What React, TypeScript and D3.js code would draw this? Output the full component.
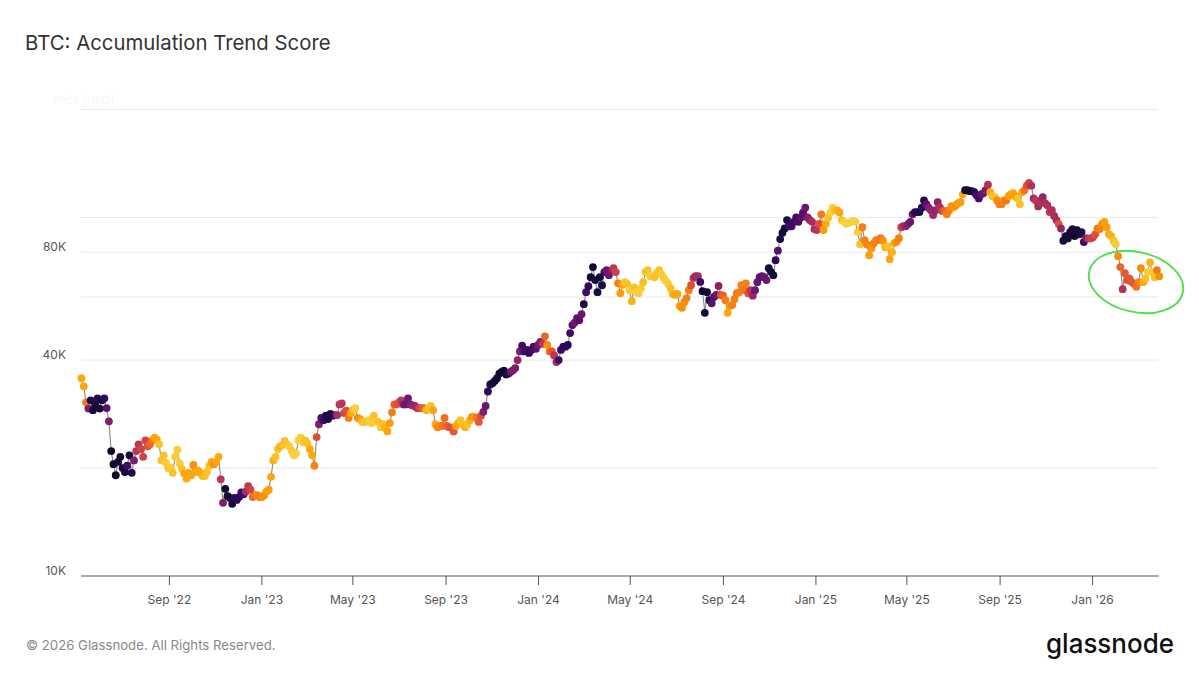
import React from "react";
import * as d3 from "d3";

const startDate = "2022-05-08";
const endDate = "2026-03-29";
const stepDays = 3.0125;

// BTC price in thousands of USD
const priceK = [
  35.6,33.8,30.5,29.3,30.9,29.0,30.1,31.3,29.3,30.9,
  31.3,29.4,27.0,22.3,20.5,19.1,20.8,21.5,20.0,19.5,
  20.3,21.7,19.4,21.0,22.3,23.3,22.6,21.5,23.9,23.0,
  23.3,23.9,24.3,24.0,23.3,21.0,21.7,20.7,20.0,20.1,
  19.4,21.5,22.5,20.6,19.9,19.3,18.7,19.4,19.1,20.4,
  19.5,19.7,19.4,19.0,19.0,19.5,20.3,20.8,20.5,20.8,
  21.5,18.6,16.0,17.5,16.7,16.5,15.9,16.5,16.3,16.6,
  17.1,16.9,17.2,17.8,17.4,16.6,16.8,16.8,16.6,16.6,
  16.8,17.2,17.4,18.9,21.0,21.5,22.6,23.0,23.2,23.8,
  23.3,23.0,22.4,21.7,22.0,23.9,24.3,23.6,23.9,23.4,
  22.6,21.7,20.3,24.4,26.5,27.6,27.2,28.0,27.4,28.3,
  28.0,28.1,28.1,30.1,30.3,28.5,28.9,27.6,28.5,29.1,
  29.4,27.6,27.4,26.9,26.9,27.0,27.2,26.7,28.0,27.0,
  26.9,26.0,26.5,25.9,25.3,26.7,28.6,30.1,30.1,30.5,
  30.9,30.1,30.1,31.3,30.1,29.9,29.8,29.4,29.4,29.4,
  29.4,29.0,29.4,29.8,29.0,26.5,26.0,26.2,26.2,27.6,
  26.2,26.0,25.9,25.3,26.2,26.7,27.2,26.5,26.0,26.4,
  27.2,27.8,27.8,27.6,26.9,28.0,28.7,29.8,32.7,34.2,
  34.5,35.0,35.6,36.7,37.1,37.4,36.5,36.7,37.1,37.5,
  38.0,40.0,42.3,43.9,42.3,42.7,41.9,42.7,43.6,43.0,
  44.1,45.0,44.4,46.6,44.1,42.3,42.3,41.2,39.5,40.0,
  42.7,43.6,43.6,44.1,47.6,50.1,50.9,52.4,51.7,53.7,
  57.3,61.9,64.3,68.1,72.7,66.9,61.9,68.1,64.7,70.4,
  71.3,69.0,70.8,72.2,70.4,65.5,61.5,64.9,66.0,65.3,
  62.7,58.4,63.8,61.9,61.5,63.5,66.0,70.4,71.3,68.6,
  68.6,68.1,69.9,71.3,69.4,67.8,66.5,65.3,63.5,61.2,
  60.8,61.2,56.6,56.0,58.0,59.6,62.7,64.7,67.8,68.6,
  68.6,66.1,62.3,54.2,61.9,58.8,57.6,60.0,60.8,64.4,
  60.8,60.5,58.8,54.2,56.6,57.0,59.2,61.5,61.9,64.7,
  62.7,65.5,61.5,62.7,60.5,62.7,66.0,68.1,68.6,68.1,
  66.9,72.2,70.4,69.0,76.0,80.8,87.0,90.6,93.2,98.3,
  94.5,94.5,97.2,100,97.2,100,103.2,106.5,100,98.3,
  97.2,92.8,92.2,96.0,102,92.2,96.0,99.8,103.2,106.5,
  104.8,104.8,103.2,98.3,97.2,96.0,96.6,97.2,97.8,97.2,
  91.0,84.2,93.9,86.4,84.0,78.5,82.1,84.6,86.4,86.4,
  87.5,86.1,82.6,83.1,76.5,80.0,84.8,85.5,87.5,93.9,
  94.5,94.5,95.8,97.2,102,103.5,103.5,103.5,106.5,111.5,
  108.9,106.5,104.8,101.5,104.8,110.3,106.5,104.3,104.3,102,
  104.8,107.5,106.8,108.2,109.6,110.3,116,119.1,119.1,118.4,
  118.4,117.6,115.3,113,116,116.8,119.1,123.4,117.6,114.6,
  113.9,111.5,108.9,108.9,111.5,111.5,114.6,116,116.8,114.6,
  113,108.9,117.6,119.1,122.6,124.9,122.6,113,111.5,107.3,
  110.3,113.9,109.6,108.2,103.5,104.8,101,98.3,95.8,93.2,
  86.1,88.7,87.4,91.0,92.8,88.7,92.2,89.7,91.0,85.4,
  87.4,87.4,87.4,88.0,89.7,93.2,92.8,96.0,97.2,93.9,
  89.7,88.7,86.1,84.2,78.0,72.7,63.1,69.9,66.9,67.6,
  66.0,65.3,64.1,66.0,72.2,66.0,67.6,70.4,74.9,70.4,
  68.1,71.3,68.6,
];

// Accumulation Trend Score on a 0 to 1 scale
const score = [
  .8,.8,.7,.35,.12,.1,.1,.15,.1,.1,
  .15,.25,.35,.08,.08,.08,.08,.1,.1,.1,
  .2,.1,.12,.35,.5,.5,.55,.55,.55,.6,
  .65,.7,.8,.8,.85,.85,.85,.87,.85,.87,
  .85,.87,.87,.87,.85,.8,.8,.8,.8,.75,
  .8,.8,.8,.82,.85,.85,.85,.8,.75,.8,
  .8,.5,.35,.1,.1,.08,.1,.15,.15,.15,
  .2,.2,.45,.5,.55,.65,.7,.75,.72,.75,
  .75,.78,.78,.8,.82,.85,.85,.82,.85,.85,
  .85,.87,.87,.88,.88,.88,.87,.87,.85,.85,
  .8,.8,.72,.6,.35,.25,.2,.12,.12,.12,
  .12,.2,.45,.5,.5,.55,.6,.72,.8,.85,
  .87,.75,.78,.85,.85,.85,.87,.87,.85,.87,
  .85,.87,.85,.82,.8,.78,.72,.65,.6,.6,
  .5,.35,.3,.3,.35,.4,.4,.45,.55,.6,
  .65,.82,.85,.85,.8,.8,.72,.75,.7,.68,
  .65,.62,.6,.62,.8,.8,.85,.85,.82,.85,
  .82,.75,.78,.7,.62,.6,.35,.3,.15,.12,
  .1,.1,.1,.1,.1,.08,.1,.12,.3,.35,
  .35,.4,.35,.2,.2,.2,.15,.2,.2,.25,
  .3,.35,.5,.65,.75,.7,.6,.5,.45,.2,
  .2,.15,.15,.15,.2,.25,.3,.3,.25,.3,
  .12,.2,.15,.1,.1,.1,.1,.1,.12,.2,
  .3,.3,.35,.5,.55,.72,.78,.8,.85,.85,
  .87,.82,.85,.87,.87,.87,.85,.85,.85,.87,
  .87,.85,.85,.85,.87,.87,.87,.87,.85,.82,
  .8,.8,.78,.75,.75,.72,.72,.6,.5,.4,
  .45,.2,.08,.1,.1,.12,.25,.25,.3,.38,
  .6,.65,.72,.8,.78,.72,.72,.7,.72,.72,
  .7,.72,.6,.5,.4,.3,.3,.28,.25,.28,
  .3,.1,.1,.1,.15,.25,.12,.1,.1,.12,
  .2,.2,.2,.2,.22,.25,.25,.3,.35,.38,
  .45,.45,.5,.6,.7,.78,.8,.85,.87,.88,
  .85,.82,.8,.85,.87,.88,.88,.88,.88,.88,
  .87,.85,.72,.72,.72,.78,.78,.72,.72,.72,
  .7,.75,.82,.85,.8,.82,.8,.75,.72,.55,
  .45,.4,.35,.3,.3,.15,.15,.12,.15,.1,
  .25,.35,.4,.42,.4,.38,.45,.55,.65,.72,
  .72,.75,.78,.75,.78,.78,.8,.1,.1,.08,
  .08,.12,.2,.2,.25,.3,.35,.48,.8,.85,
  .85,.75,.72,.72,.75,.7,.8,.78,.8,.78,
  .85,.85,.8,.7,.6,.55,.48,.45,.5,.45,
  .48,.4,.45,.48,.5,.48,.45,.45,.6,.4,
  .12,.1,.1,.1,.1,.08,.1,.1,.12,.2,
  .3,.5,.55,.55,.6,.7,.72,.75,.78,.78,
  .8,.82,.85,.87,.75,.65,.48,.62,.6,.62,
  .62,.62,.68,.72,.75,.8,.85,.87,.82,.87,
  .85,.7,.75,
];

const xTickDates = ["2022-09-01","2023-01-01","2023-05-01","2023-09-01","2024-01-01","2024-05-01","2024-09-01","2025-01-01","2025-05-01","2025-09-01","2026-01-01"];
const xTickLabels = ["Sep '22","Jan '23","May '23","Sep '23","Jan '24","May '24","Sep '24","Jan '25","May '25","Sep '25","Jan '26"];
const gridValues = [10000, 20000, 40000, 60000, 80000, 100000, 200000];
const yLabelled = [[10000, "10K"], [40000, "40K"], [80000, "80K"]] as [number, string][];

const font = "Inter, 'Open Sans', sans-serif";
const W = 1199, H = 675;

export default function App() {
  const start = new Date(startDate + "T00:00:00Z");
  const x = d3.scaleUtc().domain([start, new Date(endDate + "T00:00:00Z")]).range([81.5, 1158.5]);
  const y = d3.scaleLog().domain([10000, 200000]).range([576, 109.5]);
  const color = d3.scaleSequential(d3.interpolateInferno).domain([0, 1]);
  const tone = d3.scaleLinear().domain([0, 0.7, 0.88]).range([0, 0.7, 0.89]);

  const pts = priceK.map((p, i) => ({
    date: new Date(start.getTime() + i * stepDays * 86400000),
    price: p * 1000,
    score: score[i],
  }));
  const line = d3.line<(typeof pts)[number]>().x(d => x(d.date)).y(d => y(d.price));

  return (
    <svg width={W} height={H} viewBox={`0 0 ${W} ${H}`}
      style={{ position: "fixed", left: 0, top: 0, display: "block", background: "#fff" }}>
      <text x={25} y={49.5} fontFamily={font} fontSize={20.35} fill="#333">BTC: Accumulation Trend Score</text>
      <text x={53} y={104} fontFamily={font} fontSize={11} fill="#f6f6f6">Price [USD]</text>

      {gridValues.filter(v => v !== 10000).map(v => (
        <line key={v} x1={81} x2={1158} y1={y(v)} y2={y(v)} stroke="#e8e8e8" strokeWidth={1} />
      ))}
      {yLabelled.map(([v, label]) => (
        <text key={label} x={66} y={y(v) - 1.5} textAnchor="end" fontFamily={font} fontSize={12} fill="#555">{label}</text>
      ))}

      <line x1={81} x2={1158.5} y1={576} y2={576} stroke="#555" strokeWidth={1.2} />
      {xTickDates.map((d, i) => {
        const px = x(new Date(d + "T00:00:00Z"));
        return (
          <g key={d}>
            <line x1={px} x2={px} y1={576} y2={585} stroke="#555" strokeWidth={1} />
            <text x={px} y={604} textAnchor="middle" fontFamily={font} fontSize={12} fill="#555">{xTickLabels[i]}</text>
          </g>
        );
      })}

      <path d={line(pts) ?? ""} fill="none" stroke="#8a8a8a" strokeWidth={1.1} />
      {pts.map((p, i) => (
        <circle key={i} cx={x(p.date)} cy={y(p.price)} r={3.9} fill={color(tone(p.score))} />
      ))}

      <ellipse cx={1136} cy={282} rx={48} ry={30} transform="rotate(13 1136 282)" fill="none" stroke="#4be04b" strokeWidth={1.8} />

      <text x={26} y={650} fontFamily={font} fontSize={13.2} fill="#888">© 2026 Glassnode. All Rights Reserved.</text>
      <text x={1046} y={652.5} fontFamily={font} fontSize={27} fontWeight={500} fill="#111" textLength={128} lengthAdjust="spacingAndGlyphs">glassnode</text>
    </svg>
  );
}
